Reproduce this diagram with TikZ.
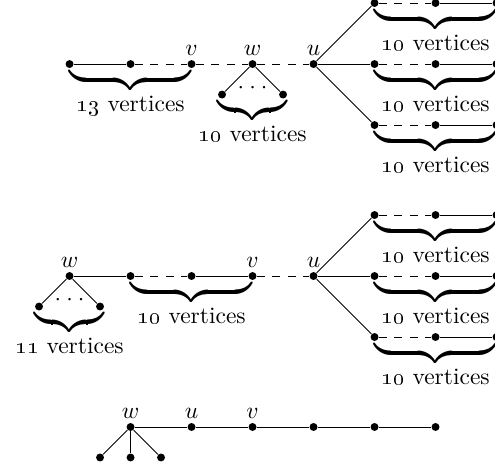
\documentclass[tikz,border=0pt]{standalone}
\usepackage{exscale}
\newcommand\ubr[1]{\fontsize{17}{20}\selectfont$\underbrace{\hbox to #1{}}$}
\newcommand\wdots{${\cdot}\kern2.4pt{\cdot}\kern2.4pt{\cdot}$}
\begin{document}
\begin{tikzpicture}[
  every node/.append style={font=\fontsize{10.95}{13}\selectfont},
  vtx/.style={circle,fill,inner sep=0pt,minimum size=3.7pt},
  lbl/.style={label distance=-1.7pt},
  brc/.style={anchor=north,inner sep=0pt},
  cnt/.style={anchor=base,inner sep=0pt,yshift=-10.5pt},
  dsh/.style={dash pattern=on 3.6pt off 3.6pt},
]
\useasboundingbox (0,0) rectangle (8.115,-7.656);

% ---------- graph 1 ----------
\node[vtx] (a1) at (1.14,-1.05) {};
\node[vtx] (a2) at (2.14,-1.05) {};
\node[vtx,label={[lbl]above:$v$}] (a3) at (3.14,-1.05) {};
\node[vtx,label={[lbl]above:$w$}] (a4) at (4.14,-1.05) {};
\node[vtx,label={[lbl]above:$u$}] (a5) at (5.14,-1.05) {};
\node[vtx] (a6) at (3.64,-1.55) {};
\node[vtx] (a7) at (4.64,-1.55) {};
\node[inner sep=0pt] (ad) at (4.14,-1.44) {\wdots};
\foreach \n/\y in {p/-0.05,q/-1.05,r/-2.05}{
  \node[vtx] (a\n1) at (6.14,\y) {};
  \node[vtx] (a\n2) at (7.14,\y) {};
  \node[vtx] (a\n3) at (8.14,\y) {};
}
\draw (a1) -- (a2);
\draw[dsh] (a2) -- (a3) -- (a4) -- (a5);
\draw (a6) -- (a4) -- (a7);
\foreach \n in {p,q,r}{
  \draw (a5) -- (a\n1);
  \draw[dsh] (a\n1) -- (a\n2);
  \draw (a\n2) -- (a\n3);
}
\node[brc] (ab1) at (2.14,-1.16) {\ubr{2cm}};
\node[cnt] (at1) at (ab1.south) {\oldstylenums{13} vertices};
\node[brc] (ab2) at (4.14,-1.66) {\ubr{1.15cm}};
\node[cnt] (at2) at (ab2.south) {\oldstylenums{10} vertices};
\foreach \n/\y in {p/-0.16,q/-1.16,r/-2.16}{
  \node[brc] (ab\n) at (7.14,\y) {\ubr{2cm}};
  \node[cnt] (at\n) at (ab\n.south) {\oldstylenums{10} vertices};
}

% ---------- graph 2 ----------
\node[vtx,label={[lbl]above:$w$}] (b1) at (1.14,-4.525) {};
\node[vtx] (b2) at (2.14,-4.525) {};
\node[vtx] (b3) at (3.14,-4.525) {};
\node[vtx,label={[lbl]above:$v$}] (b4) at (4.14,-4.525) {};
\node[vtx,label={[lbl]above:$u$}] (b5) at (5.14,-4.525) {};
\node[vtx] (b6) at (0.64,-5.025) {};
\node[vtx] (b7) at (1.64,-5.025) {};
\node[inner sep=0pt] (bd) at (1.14,-4.915) {\wdots};
\foreach \n/\y in {p/-3.525,q/-4.525,r/-5.525}{
  \node[vtx] (b\n1) at (6.14,\y) {};
  \node[vtx] (b\n2) at (7.14,\y) {};
  \node[vtx] (b\n3) at (8.14,\y) {};
}
\draw (b1) -- (b2);
\draw[dsh] (b2) -- (b3);
\draw (b3) -- (b4);
\draw[dsh] (b4) -- (b5);
\draw (b6) -- (b1) -- (b7);
\foreach \n in {p,q,r}{
  \draw (b5) -- (b\n1);
  \draw[dsh] (b\n1) -- (b\n2);
  \draw (b\n2) -- (b\n3);
}
\node[brc] (bb1) at (1.14,-5.135) {\ubr{1.15cm}};
\node[cnt] (bt1) at (bb1.south) {\oldstylenums{11} vertices};
\node[brc] (bb2) at (3.14,-4.635) {\ubr{2cm}};
\node[cnt] (bt2) at (bb2.south) {\oldstylenums{10} vertices};
\foreach \n/\y in {p/-3.635,q/-4.635,r/-5.635}{
  \node[brc] (bb\n) at (7.14,\y) {\ubr{2cm}};
  \node[cnt] (bt\n) at (bb\n.south) {\oldstylenums{10} vertices};
}

% ---------- graph 3 ----------
\node[vtx,label={[lbl]above:$w$}] (c1) at (2.14,-7) {};
\node[vtx,label={[lbl]above:$u$}] (c2) at (3.14,-7) {};
\node[vtx,label={[lbl]above:$v$}] (c3) at (4.14,-7) {};
\node[vtx] (c4) at (5.14,-7) {};
\node[vtx] (c5) at (6.14,-7) {};
\node[vtx] (c6) at (7.14,-7) {};
\node[vtx] (c7) at (1.64,-7.5) {};
\node[vtx] (c8) at (2.14,-7.5) {};
\node[vtx] (c9) at (2.64,-7.5) {};
\draw (c1) -- (c2) -- (c3) -- (c4) -- (c5) -- (c6);
\draw (c1) -- (c7);
\draw (c1) -- (c8);
\draw (c1) -- (c9);
\end{tikzpicture}
\end{document}
